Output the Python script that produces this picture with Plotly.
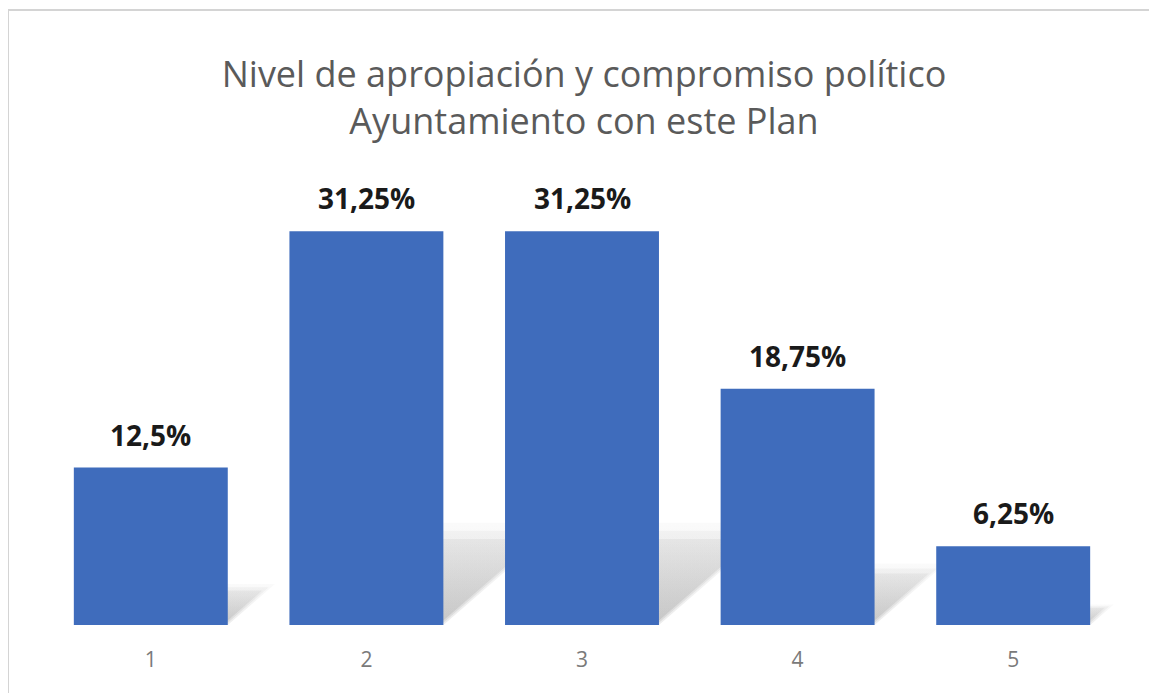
import plotly.graph_objects as go

categories = [1, 2, 3, 4, 5]
tick_labels = ["1", "2", "3", "4", "5"]
values = [12.5, 31.25, 31.25, 18.75, 6.25]
labels = ["12,5%", "31,25%", "31,25%", "18,75%", "6,25%"]

# page body has an 8px margin, so figure coords = page coords - 8
W, H = 1149, 685
L, R, T, B = 35, 36, 176, 68
BAR_W = 0.714
X_RANGE = [0.5, 5.5]
Y_RANGE = [0, 35]

fig = go.Figure()

# perspective shadows on the base axes (drawn beneath the overlaid bar axes)
SX, SY = 0.0175, 0.26
for x, v in zip(categories, values):
    dx, dy = SX * v, SY * v
    for k, (inset, a0, a1) in enumerate([(0.0, 0.12, 0.03), (0.012, 0.14, 0.05), (0.024, 0.16, 0.07)]):
        xl = x - BAR_W / 2 + inset
        xr = x + BAR_W / 2 - inset
        top = dy * (1 - 0.08 * k)
        sh = dx * (1 - 0.08 * k)
        fig.add_trace(go.Scatter(
            x=[xl, xr, xr + sh, xl + sh, xl],
            y=[0, 0, top, top, 0],
            xaxis="x", yaxis="y",
            mode="lines", line=dict(width=0), fill="toself",
            fillgradient=dict(type="vertical", start=0, stop=top,
                              colorscale=[[0, f"rgba(100,100,100,{a0})"],
                                          [1, f"rgba(100,100,100,{a1})"]]),
            hoverinfo="skip", showlegend=False,
        ))

fig.add_trace(go.Bar(
    x=categories, y=values, width=BAR_W, xaxis="x2", yaxis="y2",
    marker=dict(color="#3F6CBC", line=dict(width=0)),
    hoverinfo="skip", showlegend=False,
))

for x, v, t in zip(categories, values, labels):
    fig.add_annotation(x=x, y=v, xref="x2", yref="y2", text=t, showarrow=False,
                       yanchor="middle", yshift=33,
                       font=dict(family="Open Sans", size=28, color="#1a1a1a", weight="bold"))

pw, ph = W - L - R, H - T - B
def px(x):
    return (x - L) / pw
def py(y):
    return (H - B - y) / ph

fig.update_layout(
    width=W, height=H,
    margin=dict(l=L, r=R, t=T, b=B),
    paper_bgcolor="white", plot_bgcolor="white",
    showlegend=False,
    title=dict(
        text="Nivel de apropiación y compromiso político<br>Ayuntamiento con este Plan",
        x=(584 - 8) / W, xanchor="center", y=1 - 79 / H, yanchor="middle",
        font=dict(family="Open Sans", size=36, color="#5a5a5a"),
    ),
    xaxis=dict(range=X_RANGE, tickvals=categories, ticktext=tick_labels,
               showgrid=False, showline=False, zeroline=False, ticks="",
               tickfont=dict(family="Open Sans", size=21, color="#7a7a7a"),
               ticklabelstandoff=20, fixedrange=True),
    yaxis=dict(range=Y_RANGE, visible=False, showgrid=False, zeroline=False),
    xaxis2=dict(range=X_RANGE, overlaying="x", visible=False, showgrid=False, zeroline=False),
    yaxis2=dict(range=Y_RANGE, overlaying="y", visible=False, showgrid=False, zeroline=False),
    shapes=[dict(type="rect", xref="paper", yref="paper",
                 x0=px(0), x1=px(1142), y0=py(700), y1=py(2),
                 line=dict(color="#d4d4d4", width=2), fillcolor="rgba(0,0,0,0)", layer="below")],
)

fig.write_html("out.html")
